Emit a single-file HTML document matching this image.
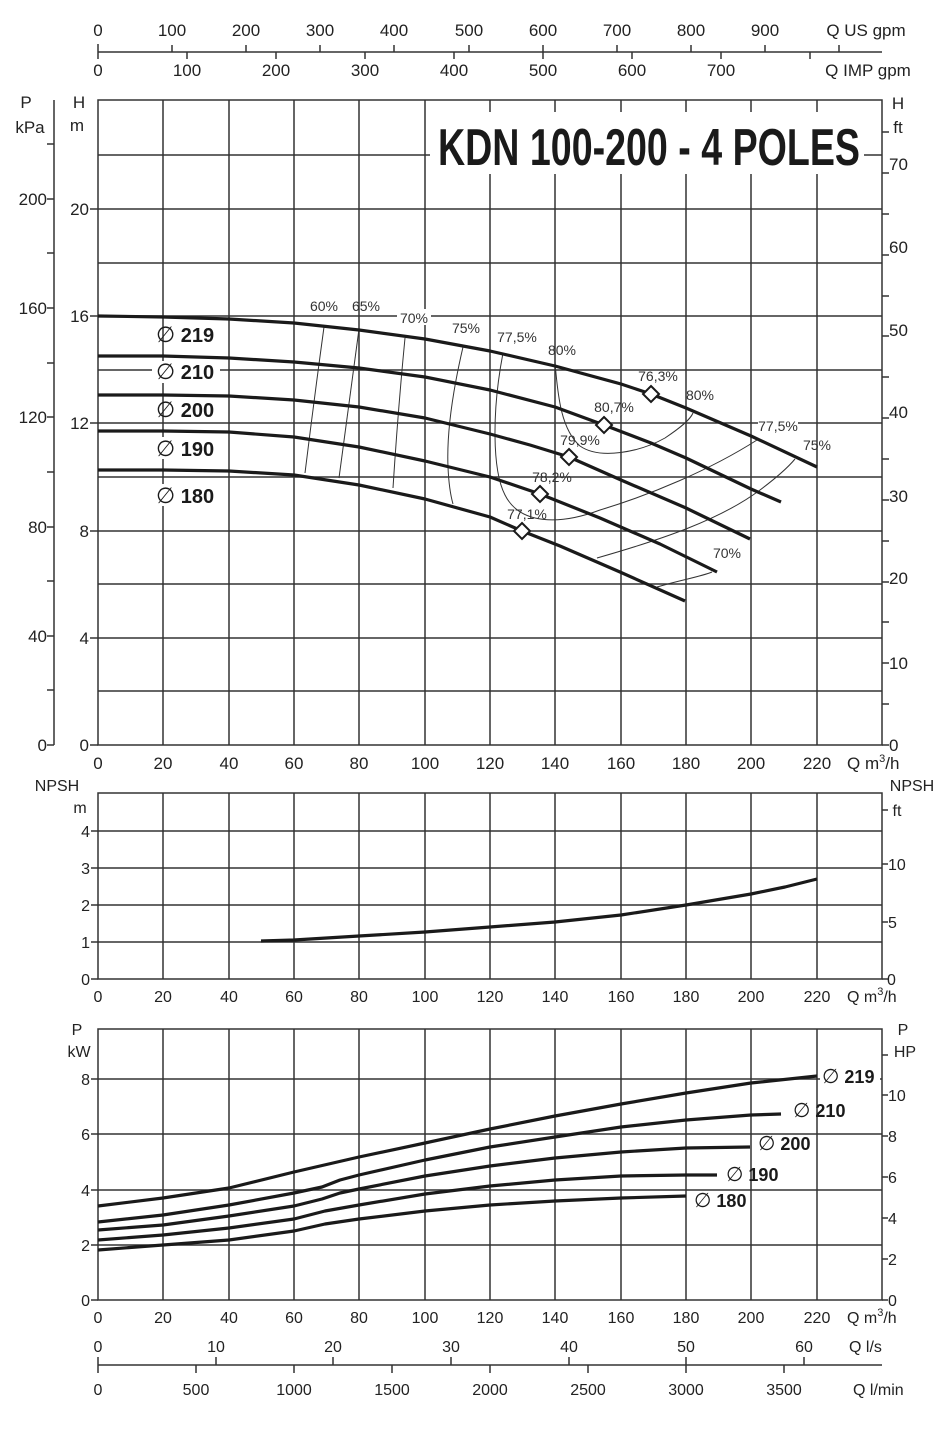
<!DOCTYPE html>
<html><head><meta charset="utf-8"><style>
html,body{margin:0;padding:0;background:#fff;}
svg{display:block;font-family:"Liberation Sans",sans-serif;fill:#222;}
</style></head><body>
<svg width="945" height="1437" viewBox="0 0 945 1437" xmlns="http://www.w3.org/2000/svg">
<rect width="945" height="1437" fill="#fff"/>
<g id="top" stroke="#333" stroke-width="1.5" fill="none">
<line x1="98" y1="52" x2="882" y2="52"/>
<line x1="98" y1="44" x2="98" y2="59"/>
<path d="M172 52V45M246 52V45M320 52V45M394 52V45M469 52V45M543 52V45M617 52V45M691 52V45M765 52V45M839 52V45"/>
<path d="M187 52V59M276 52V59M365 52V59M454 52V59M543 52V59M632 52V59M721 52V59M810 52V59"/>
</g>
<g font-size="17" text-anchor="middle" fill="#222">
<text x="98" y="36">0</text><text x="172" y="36">100</text><text x="246" y="36">200</text><text x="320" y="36">300</text><text x="394" y="36">400</text><text x="469" y="36">500</text><text x="543" y="36">600</text><text x="617" y="36">700</text><text x="691" y="36">800</text><text x="765" y="36">900</text>
<text x="98" y="76">0</text><text x="187" y="76">100</text><text x="276" y="76">200</text><text x="365" y="76">300</text><text x="454" y="76">400</text><text x="543" y="76">500</text><text x="632" y="76">600</text><text x="721" y="76">700</text>
<text x="866" y="36">Q US gpm</text><text x="868" y="76">Q IMP gpm</text>
</g>

<!-- MAIN CHART -->
<g stroke="#333" stroke-width="1.5" fill="none">
<rect x="98" y="100" width="784" height="645"/>
<path d="M163 100V745M229 100V745M294 100V745M359 100V745M425 100V745M490 100V745M555 100V745M621 100V745M686 100V745M751 100V745M817 100V745"/>
<path d="M98 691H882M98 638H882M98 584H882M98 531H882M98 477H882M98 423H882M98 370H882M98 316H882M98 263H882M98 209H882M98 155H430M862 155H882"/>
<line x1="54" y1="100" x2="54" y2="745"/>
<path d="M54 745H47M54 690H47M54 636H47M54 581H47M54 527H47M54 472H47M54 417H47M54 363H47M54 308H47M54 253H47M54 199H47M54 144H47"/>
<path d="M90 745H98M90 638H98M90 531H98M90 423H98M90 316H98M90 209H98"/>
<path d="M882 745H889M882 704H889M882 663H889M882 622H889M882 582H889M882 541H889M882 500H889M882 459H889M882 418H889M882 377H889M882 336H889M882 296H889M882 255H889M882 214H889M882 173H889M882 132H889"/>
</g>
<g font-size="17" fill="#222">
<text x="26" y="108" text-anchor="middle">P</text><text x="30" y="133" text-anchor="middle">kPa</text>
<text x="79" y="108" text-anchor="middle">H</text><text x="77" y="131" text-anchor="middle">m</text>
<g text-anchor="end">
<text x="47" y="751">0</text><text x="47" y="642">40</text><text x="47" y="533">80</text><text x="47" y="423">120</text><text x="47" y="314">160</text><text x="47" y="205">200</text>
<text x="89" y="751">0</text><text x="89" y="644">4</text><text x="89" y="537">8</text><text x="89" y="429">12</text><text x="89" y="322">16</text><text x="89" y="215">20</text>
</g>
<text x="898" y="109" text-anchor="middle">H</text><text x="898" y="133" text-anchor="middle">ft</text>
<text x="889" y="751">0</text><text x="889" y="669">10</text><text x="889" y="584">20</text><text x="889" y="502">30</text><text x="889" y="418">40</text><text x="889" y="336">50</text><text x="889" y="253">60</text><text x="889" y="170">70</text>
<g text-anchor="middle">
<text x="98" y="769">0</text><text x="163" y="769">20</text><text x="229" y="769">40</text><text x="294" y="769">60</text><text x="359" y="769">80</text><text x="425" y="769">100</text><text x="490" y="769">120</text><text x="555" y="769">140</text><text x="621" y="769">160</text><text x="686" y="769">180</text><text x="751" y="769">200</text><text x="817" y="769">220</text>
</g>
<text x="847" y="769">Q m<tspan font-size="11" dy="-7">3</tspan><tspan dy="7">/h</tspan></text>
</g>
<rect x="432" y="112" width="432" height="62" fill="#fff"/>
<text x="438" y="165" font-family="'Liberation Sans Narrow','Liberation Sans',sans-serif" font-weight="bold" font-size="52" textLength="422" lengthAdjust="spacingAndGlyphs" fill="#1a1a1a">KDN 100-200 - 4 POLES</text>

<!-- efficiency thin curves -->
<g stroke="#333" stroke-width="1" fill="none">
<path d="M324 327 Q314 400 305 473"/>
<path d="M359 329 Q349 405 339 478"/>
<path d="M405 338 Q398 410 393 488"/>
<path d="M463 347 Q446 420 448 467 Q449 490 453 504"/>
<path d="M503 353 C492 410 492 470 505 495 C520 525 560 525 600 510 C650 495 710 470 757 440"/>
<path d="M555 362 C558 400 562 430 580 446 C600 460 640 452 665 438 C680 428 690 420 693 413"/>
<path d="M597 558 C660 540 720 520 760 490 C780 475 790 465 795 459"/>
<path d="M657 587 C680 580 700 577 712 572"/>
</g>
<!-- head curves -->
<g stroke="#1a1a1a" stroke-width="3.2" fill="none" stroke-linejoin="round" stroke-linecap="butt">
<polyline points="98,316 163,317 229,319 294,323 359,330 425,339 490,351 555,366 621,384 651,394 686,408 751,436 817,467"/>
<polyline points="98,356 163,356 229,358 294,362 359,368 425,377 490,390 555,407 604,425 651,443 686,458 751,489 781,502"/>
<polyline points="98,395 163,395 229,396 294,400 359,407 425,418 490,434 530,445 569,457 621,480 686,508 750,539"/>
<polyline points="98,431 163,431 229,432 294,437 359,447 425,461 490,477 540,494 600,518 660,544 717,572"/>
<polyline points="98,470 163,470 229,471 294,475 359,485 425,499 490,517 522,531 560,546 620,572 685,601"/>
</g>
<g fill="#fff" stroke="#1a1a1a" stroke-width="2">
<path d="M651 386 L659 394 L651 402 L643 394 Z"/>
<path d="M604 417 L612 425 L604 433 L596 425 Z"/>
<path d="M569 449 L577 457 L569 465 L561 457 Z"/>
<path d="M540 486 L548 494 L540 502 L532 494 Z"/>
<path d="M522 523 L530 531 L522 539 L514 531 Z"/>
</g>
<g font-size="14" text-anchor="middle" fill="#333">
<rect x="397" y="309" width="34" height="16" fill="#fff"/>
<rect x="758" y="418" width="40" height="16" fill="#fff"/>
<text x="324" y="311">60%</text><text x="366" y="311">65%</text><text x="414" y="323">70%</text><text x="466" y="333">75%</text><text x="517" y="342">77,5%</text><text x="562" y="355">80%</text>
<text x="658" y="381">76,3%</text><text x="700" y="400">80%</text><text x="614" y="412">80,7%</text><text x="580" y="445">79,9%</text><text x="552" y="482">78,2%</text><text x="527" y="519">77,1%</text>
<text x="778" y="431">77,5%</text><text x="817" y="450">75%</text><text x="727" y="558">70%</text>
</g>
<g font-size="20" font-weight="bold" fill="#1a1a1a">
<rect x="152" y="361" width="68" height="22" fill="#fff"/>
<rect x="152" y="437" width="68" height="22" fill="#fff"/>
<rect x="152" y="484" width="68" height="22" fill="#fff"/>
<text x="156" y="342"><tspan font-weight="normal" font-size="22">∅</tspan> 219</text>
<text x="156" y="379"><tspan font-weight="normal" font-size="22">∅</tspan> 210</text>
<text x="156" y="417"><tspan font-weight="normal" font-size="22">∅</tspan> 200</text>
<text x="156" y="456"><tspan font-weight="normal" font-size="22">∅</tspan> 190</text>
<text x="156" y="503"><tspan font-weight="normal" font-size="22">∅</tspan> 180</text>
</g>

<!-- NPSH CHART -->
<g stroke="#333" stroke-width="1.5" fill="none">
<rect x="98" y="793" width="784" height="186"/>
<path d="M163 793V979M229 793V979M294 793V979M359 793V979M425 793V979M490 793V979M555 793V979M621 793V979M686 793V979M751 793V979M817 793V979"/>
<path d="M98 942H882M98 905H882M98 868H882M98 831H882"/>
<path d="M91 979H98M91 942H98M91 905H98M91 868H98M91 831H98"/>
<path d="M882 979H888M882 922H888M882 864H888M882 810H888"/>
</g>
<g font-size="16" fill="#222">
<text x="57" y="791" text-anchor="middle">NPSH</text><text x="80" y="813" text-anchor="middle">m</text>
<text x="912" y="791" text-anchor="middle">NPSH</text><text x="897" y="816" text-anchor="middle">ft</text>
<g text-anchor="end"><text x="90" y="985">0</text><text x="90" y="948">1</text><text x="90" y="911">2</text><text x="90" y="874">3</text><text x="90" y="837">4</text></g>
<text x="887" y="985">0</text><text x="888" y="928">5</text><text x="888" y="870">10</text>
<g text-anchor="middle">
<text x="98" y="1002">0</text><text x="163" y="1002">20</text><text x="229" y="1002">40</text><text x="294" y="1002">60</text><text x="359" y="1002">80</text><text x="425" y="1002">100</text><text x="490" y="1002">120</text><text x="555" y="1002">140</text><text x="621" y="1002">160</text><text x="686" y="1002">180</text><text x="751" y="1002">200</text><text x="817" y="1002">220</text>
</g>
<text x="847" y="1002">Q m<tspan font-size="11" dy="-7">3</tspan><tspan dy="7">/h</tspan></text>
</g>
<polyline points="261,941 294,940 359,936 425,932 490,927 555,922 621,915 686,905 751,894 785,887 817,879" fill="none" stroke="#1a1a1a" stroke-width="3.2" stroke-linejoin="round"/>

<!-- POWER CHART -->
<g stroke="#333" stroke-width="1.5" fill="none">
<rect x="98" y="1029" width="784" height="271"/>
<path d="M163 1029V1300M229 1029V1300M294 1029V1300M359 1029V1300M425 1029V1300M490 1029V1300M555 1029V1300M621 1029V1300M686 1029V1300M751 1029V1300M817 1029V1300"/>
<path d="M98 1245H882M98 1190H882M98 1134H882M98 1079H882"/>
<path d="M91 1300H98M91 1245H98M91 1190H98M91 1134H98M91 1079H98"/>
<path d="M882 1300H888M882 1259H888M882 1218H888M882 1177H888M882 1136H888M882 1095H888M882 1055H888"/>
<line x1="98" y1="1365" x2="882" y2="1365"/>
<path d="M98 1357V1373M216 1365V1357M333 1365V1357M451 1365V1357M569 1365V1357M686 1365V1357M804 1365V1357"/>
<path d="M196 1365V1373M294 1365V1373M392 1365V1373M490 1365V1373M588 1365V1373M686 1365V1373M784 1365V1373"/>
</g>
<g font-size="16" fill="#222">
<text x="77" y="1035" text-anchor="middle">P</text><text x="79" y="1057" text-anchor="middle">kW</text>
<text x="903" y="1035" text-anchor="middle">P</text><text x="905" y="1057" text-anchor="middle">HP</text>
<g text-anchor="end"><text x="90" y="1306">0</text><text x="90" y="1251">2</text><text x="90" y="1196">4</text><text x="90" y="1140">6</text><text x="90" y="1085">8</text></g>
<text x="888" y="1306">0</text><text x="888" y="1265">2</text><text x="888" y="1224">4</text><text x="888" y="1183">6</text><text x="888" y="1142">8</text><text x="888" y="1101">10</text>
<g text-anchor="middle">
<text x="98" y="1323">0</text><text x="163" y="1323">20</text><text x="229" y="1323">40</text><text x="294" y="1323">60</text><text x="359" y="1323">80</text><text x="425" y="1323">100</text><text x="490" y="1323">120</text><text x="555" y="1323">140</text><text x="621" y="1323">160</text><text x="686" y="1323">180</text><text x="751" y="1323">200</text><text x="817" y="1323">220</text>
<text x="98" y="1352">0</text><text x="216" y="1352">10</text><text x="333" y="1352">20</text><text x="451" y="1352">30</text><text x="569" y="1352">40</text><text x="686" y="1352">50</text><text x="804" y="1352">60</text>
<text x="98" y="1395">0</text><text x="196" y="1395">500</text><text x="294" y="1395">1000</text><text x="392" y="1395">1500</text><text x="490" y="1395">2000</text><text x="588" y="1395">2500</text><text x="686" y="1395">3000</text><text x="784" y="1395">3500</text>
</g>
<text x="847" y="1323">Q m<tspan font-size="11" dy="-7">3</tspan><tspan dy="7">/h</tspan></text>
<text x="849" y="1352">Q l/s</text>
<text x="853" y="1395">Q l/min</text>
</g>
<g stroke="#1a1a1a" stroke-width="3.2" fill="none" stroke-linejoin="round">
<polyline points="98,1206 163,1198 229,1188 294,1172 359,1157 425,1143 490,1129 555,1116 621,1104 686,1093 751,1083 817,1076"/>
<polyline points="98,1222 163,1215 229,1205 294,1193 322,1187 340,1180 359,1175 425,1160 490,1147 555,1137 621,1127 686,1120 751,1115 781,1114"/>
<polyline points="98,1230 163,1225 229,1216 294,1206 322,1199 340,1193 359,1189 425,1176 490,1166 555,1158 621,1152 686,1148 750,1147"/>
<polyline points="98,1240 163,1235 229,1228 294,1219 325,1211 359,1205 425,1194 490,1186 555,1180 621,1176 686,1175 717,1175"/>
<polyline points="98,1250 163,1245 229,1240 294,1231 325,1224 359,1219 425,1211 490,1205 555,1201 621,1198 686,1196"/>
</g>
<g font-size="18" font-weight="bold" fill="#1a1a1a">
<rect x="820" y="1066" width="60" height="22" fill="#fff"/>
<text x="822" y="1083"><tspan font-weight="normal" font-size="20">∅</tspan> 219</text>
<text x="793" y="1117"><tspan font-weight="normal" font-size="20">∅</tspan> 210</text>
<text x="758" y="1150"><tspan font-weight="normal" font-size="20">∅</tspan> 200</text>
<text x="726" y="1181"><tspan font-weight="normal" font-size="20">∅</tspan> 190</text>
<text x="694" y="1207"><tspan font-weight="normal" font-size="20">∅</tspan> 180</text>
</g>
</svg>
</body></html>
